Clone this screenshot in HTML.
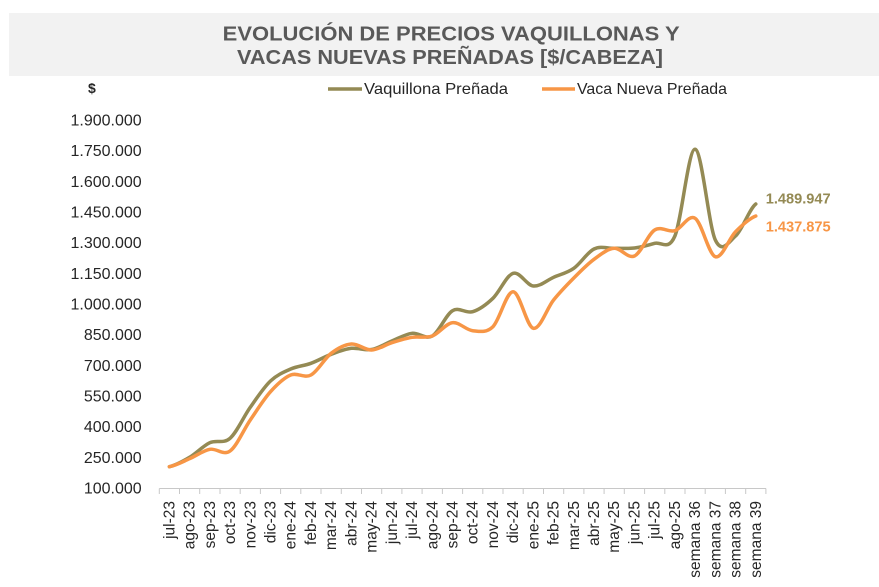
<!DOCTYPE html>
<html><head><meta charset="utf-8"><style>
html,body{margin:0;padding:0;background:#fff;}
svg{display:block;font-family:"Liberation Sans",sans-serif;}
</style></head><body>
<svg width="879" height="587" viewBox="0 0 879 587" xmlns="http://www.w3.org/2000/svg">
<rect x="9" y="13" width="870" height="63" fill="#f2f2f2"/>
<text x="222.7" y="40.7" font-size="20" font-weight="bold" fill="#595959" textLength="457" lengthAdjust="spacingAndGlyphs">EVOLUCIÓN DE PRECIOS VAQUILLONAS Y</text>
<text x="237" y="64" font-size="20" font-weight="bold" fill="#595959" textLength="426" lengthAdjust="spacingAndGlyphs">VACAS NUEVAS PREÑADAS [$/CABEZA]</text>
<text x="88" y="93" font-size="14" font-weight="bold" fill="#262626">$</text>
<line x1="328" y1="89" x2="362" y2="89" stroke="#948a54" stroke-width="3.5"/>
<text x="364" y="94" font-size="16" fill="#262626" textLength="144" lengthAdjust="spacingAndGlyphs">Vaquillona Preñada</text>
<line x1="542" y1="89" x2="575" y2="89" stroke="#f79646" stroke-width="3.5"/>
<text x="577" y="94" font-size="16" fill="#262626" textLength="150" lengthAdjust="spacingAndGlyphs">Vaca Nueva Preñada</text>
<g font-size="16" fill="#262626" text-anchor="end">
<text x="141.7" y="125.5">1.900.000</text>
<text x="141.7" y="156.2">1.750.000</text>
<text x="141.7" y="186.8">1.600.000</text>
<text x="141.7" y="217.5">1.450.000</text>
<text x="141.7" y="248.2">1.300.000</text>
<text x="141.7" y="278.8">1.150.000</text>
<text x="141.7" y="309.5">1.000.000</text>
<text x="141.7" y="340.2">850.000</text>
<text x="141.7" y="370.8">700.000</text>
<text x="141.7" y="401.5">550.000</text>
<text x="141.7" y="432.2">400.000</text>
<text x="141.7" y="462.8">250.000</text>
<text x="141.7" y="493.5">100.000</text>
</g>
<g stroke="#c8c8c8" stroke-width="1">
<line x1="159.3" y1="488.5" x2="766" y2="488.5"/>
<path d="M159.3,488.5V494M179.5,488.5V494M199.7,488.5V494M220,488.5V494M240.2,488.5V494M260.4,488.5V494M280.6,488.5V494M300.8,488.5V494M321,488.5V494M341.3,488.5V494M361.5,488.5V494M381.7,488.5V494M401.9,488.5V494M422.1,488.5V494M442.4,488.5V494M462.6,488.5V494M482.8,488.5V494M503,488.5V494M523.2,488.5V494M543.5,488.5V494M563.7,488.5V494M583.9,488.5V494M604.1,488.5V494M624.3,488.5V494M644.6,488.5V494M664.8,488.5V494M685,488.5V494M705.2,488.5V494M725.4,488.5V494M745.7,488.5V494M765.9,488.5V494" fill="none"/>
</g>
<g font-size="15.5" fill="#262626" text-anchor="end">
<text transform="translate(174.4,501) rotate(-90)">jul-23</text>
<text transform="translate(194.6,501) rotate(-90)">ago-23</text>
<text transform="translate(214.8,501) rotate(-90)">sep-23</text>
<text transform="translate(235.1,501) rotate(-90)">oct-23</text>
<text transform="translate(255.3,501) rotate(-90)">nov-23</text>
<text transform="translate(275.5,501) rotate(-90)">dic-23</text>
<text transform="translate(295.7,501) rotate(-90)">ene-24</text>
<text transform="translate(315.9,501) rotate(-90)">feb-24</text>
<text transform="translate(336.2,501) rotate(-90)">mar-24</text>
<text transform="translate(356.4,501) rotate(-90)">abr-24</text>
<text transform="translate(376.6,501) rotate(-90)">may-24</text>
<text transform="translate(396.8,501) rotate(-90)">jun-24</text>
<text transform="translate(417,501) rotate(-90)">jul-24</text>
<text transform="translate(437.3,501) rotate(-90)">ago-24</text>
<text transform="translate(457.5,501) rotate(-90)">sep-24</text>
<text transform="translate(477.7,501) rotate(-90)">oct-24</text>
<text transform="translate(497.9,501) rotate(-90)">nov-24</text>
<text transform="translate(518.1,501) rotate(-90)">dic-24</text>
<text transform="translate(538.4,501) rotate(-90)">ene-25</text>
<text transform="translate(558.6,501) rotate(-90)">feb-25</text>
<text transform="translate(578.8,501) rotate(-90)">mar-25</text>
<text transform="translate(599,501) rotate(-90)">abr-25</text>
<text transform="translate(619.2,501) rotate(-90)">may-25</text>
<text transform="translate(639.5,501) rotate(-90)">jun-25</text>
<text transform="translate(659.7,501) rotate(-90)">jul-25</text>
<text transform="translate(679.9,501) rotate(-90)">ago-25</text>
<text transform="translate(700.1,501) rotate(-90)">semana 36</text>
<text transform="translate(720.3,501) rotate(-90)">semana 37</text>
<text transform="translate(740.6,501) rotate(-90)">semana 38</text>
<text transform="translate(760.8,501) rotate(-90)">semana 39</text>
</g>
<path fill="none" stroke="#948a54" stroke-width="3.5" stroke-linecap="round" stroke-linejoin="round" d="M169.4,466.7 C176.14,465.13 182.88,461.3 189.62,457.3 S203.1,445.87 209.84,442.7 S223.32,444.2 230.06,438.3 S243.54,416.85 250.28,407.3 S263.76,387.38 270.5,381 S283.98,371.95 290.72,369 S304.2,365.75 310.94,363.3 S324.42,356.8 331.16,354.3 S344.64,349.1 351.38,348.3 S364.86,350.72 371.6,349.5 S385.08,343.7 391.82,341 S405.3,334.13 412.04,333.3 S425.52,339.77 432.26,336 S445.74,314.75 452.48,310.7 S465.96,313.77 472.7,311.7 S486.18,304.7 492.92,298.3 S506.4,275.35 513.14,273.3 S526.62,285.33 533.36,286 S546.84,280.25 553.58,277.3 S567.06,273.02 573.8,268.3 S587.28,252.33 594.02,249 S607.5,248.47 614.24,248.3 S627.72,248.83 634.46,248 S647.94,245.3 654.68,243.3 S668.16,251.67 674.9,236 S688.38,148.63 695.12,149.3 S708.6,225.55 715.34,240 S728.82,242 735.56,236 S749.04,209.33 755.78,204"/>
<path fill="none" stroke="#f79646" stroke-width="3.5" stroke-linecap="round" stroke-linejoin="round" d="M169.4,466.7 C176.14,465.37 182.88,461.6 189.62,458.7 S203.1,450.58 209.84,449.3 S223.32,455.88 230.06,451 S243.54,429.88 250.28,420 S263.76,399.2 270.5,391.7 S283.98,377.78 290.72,375 S304.2,378.62 310.94,375 S324.42,358.47 331.16,353.3 S344.64,344.55 351.38,344 S364.86,350.22 371.6,350 S385.08,344.82 391.82,342.7 S405.3,338.42 412.04,337.3 S425.52,338.43 432.26,336 S445.74,323.58 452.48,322.7 S465.96,330.03 472.7,330.7 S486.18,333.2 492.92,326.7 S506.4,291.43 513.14,291.7 S526.62,326.92 533.36,328.3 S546.84,308.38 553.58,300 S567.06,284.78 573.8,278 S587.28,264.25 594.02,259.3 S607.5,248.85 614.24,248.3 S627.72,259.05 634.46,256 S647.94,234.22 654.68,230 S668.16,232.65 674.9,230.7 S688.38,213.97 695.12,218.3 S708.6,254.47 715.34,256.7 S728.82,238.48 735.56,231.7 S749.04,218.62 755.78,216"/>
<text x="765.7" y="203.6" font-size="15" font-weight="bold" fill="#948a54" textLength="65" lengthAdjust="spacingAndGlyphs">1.489.947</text>
<text x="765.7" y="231.4" font-size="15" font-weight="bold" fill="#f79646" textLength="65" lengthAdjust="spacingAndGlyphs">1.437.875</text>
</svg>
</body></html>
